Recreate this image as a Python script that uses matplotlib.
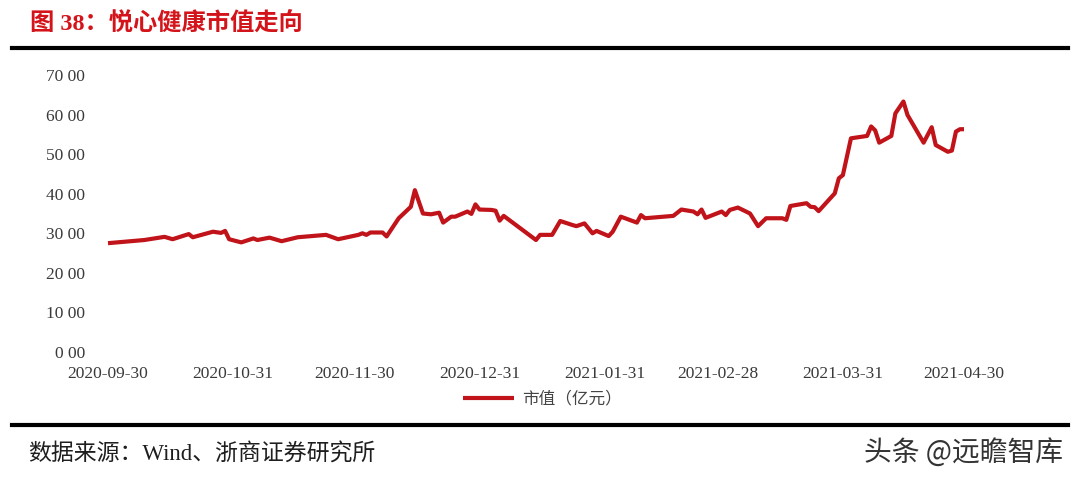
import matplotlib
matplotlib.use("Agg")
import matplotlib.pyplot as plt
import matplotlib.dates as mdates
from matplotlib.lines import Line2D

# ---------------- data ----------------
dates = [
    "2020-09-30", "2020-10-09", "2020-10-14", "2020-10-16", "2020-10-20", "2020-10-21",
    "2020-10-26", "2020-10-28", "2020-10-29", "2020-10-30", "2020-11-02", "2020-11-05",
    "2020-11-06", "2020-11-09", "2020-11-12", "2020-11-16", "2020-11-23", "2020-11-26",
    "2020-12-01", "2020-12-02", "2020-12-03", "2020-12-04", "2020-12-07", "2020-12-08",
    "2020-12-11", "2020-12-14", "2020-12-15", "2020-12-17", "2020-12-19", "2020-12-21",
    "2020-12-22", "2020-12-24", "2020-12-25", "2020-12-28", "2020-12-29", "2020-12-30",
    "2020-12-31", "2021-01-03", "2021-01-04", "2021-01-05", "2021-01-06", "2021-01-14",
    "2021-01-15", "2021-01-18", "2021-01-20", "2021-01-23", "2021-01-24", "2021-01-26",
    "2021-01-28", "2021-01-29", "2021-02-01", "2021-02-02", "2021-02-04", "2021-02-08",
    "2021-02-09", "2021-02-10", "2021-02-17", "2021-02-19", "2021-02-22", "2021-02-23",
    "2021-02-24", "2021-02-25", "2021-03-01", "2021-03-02", "2021-03-03", "2021-03-05",
    "2021-03-08", "2021-03-10", "2021-03-12", "2021-03-16", "2021-03-17", "2021-03-18",
    "2021-03-22", "2021-03-23", "2021-03-24", "2021-03-25", "2021-03-29", "2021-03-30",
    "2021-03-31", "2021-04-02", "2021-04-06", "2021-04-07", "2021-04-08", "2021-04-09",
    "2021-04-12", "2021-04-13", "2021-04-15", "2021-04-16", "2021-04-20", "2021-04-22",
    "2021-04-23", "2021-04-26", "2021-04-27", "2021-04-28", "2021-04-29", "2021-04-30",
]
market_cap = [
    27.5, 28.3, 29.1, 28.5, 29.8, 29.0,
    30.4, 30.1, 30.6, 28.5, 27.7, 28.7,
    28.3, 28.9, 28.0, 29.0, 29.6, 28.5,
    29.6, 30.0, 29.6, 30.2, 30.2, 29.2,
    33.8, 36.7, 40.9, 35.0, 34.8, 35.2,
    32.7, 34.2, 34.2, 35.5, 34.9, 37.3,
    36.0, 35.9, 35.7, 33.2, 34.4, 28.3,
    29.6, 29.6, 33.1, 32.1, 31.8, 32.5,
    30.0, 30.6, 29.3, 30.4, 34.2, 32.7,
    34.6, 33.8, 34.4, 36.0, 35.5, 34.8,
    36.0, 33.9, 35.5, 34.6, 35.9, 36.5,
    35.0, 31.8, 33.8, 33.8, 33.4, 36.9,
    37.6, 36.7, 36.6, 35.6, 40.1, 43.9,
    44.7, 54.0, 54.6, 57.0, 56.0, 52.9,
    54.6, 60.3, 63.3, 59.9, 52.9, 56.8,
    52.3, 50.6, 50.9, 55.7, 56.3, 56.3,
]
tick_dates = ["2020-09-30", "2020-10-31", "2020-11-30", "2020-12-31",
              "2021-01-31", "2021-02-28", "2021-03-31", "2021-04-30"]
ytick_values = [0, 10, 20, 30, 40, 50, 60, 70]
ytick_labels = ["0 00", "10 00", "20 00", "30 00", "40 00", "50 00", "60 00", "70 00"]
series_name = "市值（亿元）"
title = "图 38：悦心健康市值走向"
source = "数据来源：Wind、浙商证券研究所"
watermark = "头条 @远瞻智库"

# ---------------- layout ----------------
W, H = 1076, 482
fig = plt.figure(figsize=(W / 100, H / 100), dpi=100)
fig.patch.set_facecolor("white")

ax_l, ax_r, ax_t, ax_b = 95, 1010, 75, 352
ax = fig.add_axes([ax_l / W, 1 - ax_b / H, (ax_r - ax_l) / W, (ax_b - ax_t) / H])

xd = mdates.datestr2num(dates)
ax.plot(xd, market_cap, color="#c0141a", lw=3.0, solid_joinstyle="round",
        solid_capstyle="butt", label=series_name)

d0 = mdates.datestr2num(tick_dates[0])
d1 = mdates.datestr2num(tick_dates[-1])
px0, px1 = 108, 964
ppd = (px1 - px0) / (d1 - d0)
ax.set_xlim(d0 - (px0 - ax_l) / ppd, d0 + (ax_r - px0) / ppd)
ax.set_ylim(0, 70)

ax.set_xticks(mdates.datestr2num(tick_dates))
ax.set_xticklabels(tick_dates)
ax.set_yticks(ytick_values)
ax.set_yticklabels(ytick_labels)
for s in ax.spines.values():
    s.set_visible(False)
ax.tick_params(axis="both", length=0, colors="#3a3a3a", labelsize=12.5)
ax.tick_params(axis="y", pad=7)
ax.tick_params(axis="x", pad=10)
for lab in ax.get_xticklabels() + ax.get_yticklabels():
    lab.set_family("Liberation Serif")

leg = fig.legend(loc="center", bbox_to_anchor=(542 / W, 1 - 399 / H), frameon=False,
                 prop={"family": ["Noto Sans CJK SC"], "size": 12},
                 handlelength=3.1, handletextpad=0.45)
for t in leg.get_texts():
    t.set_color("#444444")

# rules
fig.add_artist(Line2D([12 / W, 1068 / W], [1 - 48 / H] * 2, color="black", lw=3))
fig.add_artist(Line2D([12 / W, 1068 / W], [1 - 425 / H] * 2, color="black", lw=3))

fig.text(30 / W, 1 - 24 / H, title, color="#d3151b", fontsize=17.5, fontweight="bold",
         family=["Liberation Serif", "Noto Sans CJK SC"], va="center", ha="left")
fig.text(28 / W, 1 - 455 / H, source, color="#1e1e1e", fontsize=16.5,
         family=["Liberation Serif", "Noto Sans CJK SC"], va="center", ha="left")
fig.text(1063 / W, 1 - 453 / H, watermark, color="#333333", fontsize=20,
         family=["Noto Sans CJK SC"], va="center", ha="right")

fig.savefig("out.png", dpi=100, facecolor="white")
